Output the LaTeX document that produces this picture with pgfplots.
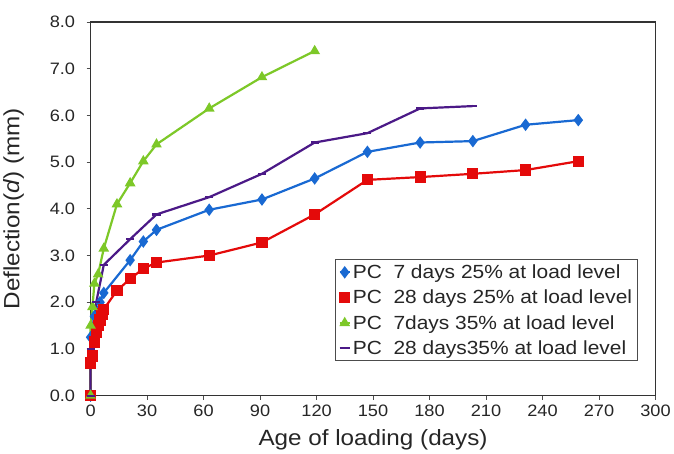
\documentclass[border=0pt]{standalone}
\usepackage{pgfplots}
\pgfplotsset{compat=1.18}
\usepackage{fontspec}
\setmainfont[FakeStretch=1.1]{Liberation Sans}

\definecolor{cblue}{RGB}{25,105,210}
\definecolor{cred}{RGB}{228,10,10}
\definecolor{cgreen}{RGB}{125,200,40}
\definecolor{cpurple}{RGB}{75,25,135}

\begin{document}
\begin{tikzpicture}
\begin{axis}[
    scale only axis,
    width=564pt, height=373pt,
    xmin=0, xmax=300, ymin=0, ymax=8,
    xtick={0,30,...,300},
    ytick={0,1,...,8},
    yticklabel style={xshift=-8pt, /pgf/number format/.cd, fixed, fixed zerofill, precision=1},
    xticklabel style={yshift=-2pt},
    /pgf/number format/assume math mode=true,
    tick label style={font=\fontsize{16.5}{18}\selectfont, text=black!85},
    xlabel={Age of loading (days)},
    ylabel={Deflection(\textit{d}) (mm)},
    label style={font=\fontsize{22}{24}\selectfont, text=black!85},
    xlabel style={yshift=-6pt},
    ylabel style={yshift=19pt},
    axis line style={line width=1.6pt, black!80},
    tick style={line width=1pt, black!70},
    tick align=outside, major tick length=4pt,
    xtick pos=bottom, ytick pos=left,
    clip=false,
    legend style={at={(rel axis cs:0.433,0.365)}, anchor=north west,
        font=\fontsize{19}{22}\selectfont, draw=black!70, line width=0.8pt,
        inner sep=3pt, row sep=6pt, text=black!85},
    legend cell align=left,
    legend image code/.code={
        \draw[mark repeat=2,mark phase=2] plot coordinates {(0pt,0pt) (5pt,0pt) (10pt,0pt)};},
]
\addplot[cblue, line width=2.2pt, mark=diamond*, mark size=4.5pt] coordinates {
    (0,0) (0,1.25) (2,1.7) (5,2.0) (7,2.2) (21,2.9) (28,3.3) (35,3.55)
    (63,3.98) (91,4.2) (119,4.65) (147,5.22) (175,5.42) (203,5.45) (231,5.8) (259,5.9)
};
\addlegendentry{PC\ \ 7 days 25\% at load level}
\addplot[cred, line width=2.2pt, mark=square*, mark size=4.5pt] coordinates {
    (0,0) (0,0.7) (1,0.85) (2,1.15) (3,1.35) (4,1.5) (5,1.62) (6,1.75) (7,1.85)
    (14,2.25) (21,2.5) (28,2.72) (35,2.85) (63,3.0) (91,3.28) (119,3.88)
    (147,4.62) (175,4.68) (203,4.75) (231,4.83) (259,5.02)
};
\addlegendentry{PC\ \ 28 days 25\% at load level}
\addplot[cgreen, line width=2.2pt, mark=triangle*, mark size=4pt] coordinates {
    (0,0) (0,1.5) (1,1.9) (2,2.4) (4,2.6) (7,3.15) (14,4.1) (21,4.55)
    (28,5.02) (35,5.38) (63,6.15) (91,6.82) (119,7.38)
};
\addlegendentry{PC\ \ 7days 35\% at load level}
\addplot[cpurple, line width=2.2pt, mark=-, mark size=4pt] coordinates {
    (0,0) (0,1.0) (3,2.0) (7,2.8) (21,3.35) (35,3.88) (63,4.25)
    (91,4.75) (119,5.42) (147,5.62) (175,6.15) (203,6.2)
};
\addlegendentry{PC\ \ 28 days35\% at load level}
\end{axis}
\path (current axis.north east) ++(16pt,22pt) coordinate (bbx);
\useasboundingbox (current bounding box.south west) rectangle (bbx);
\end{tikzpicture}
\end{document}
